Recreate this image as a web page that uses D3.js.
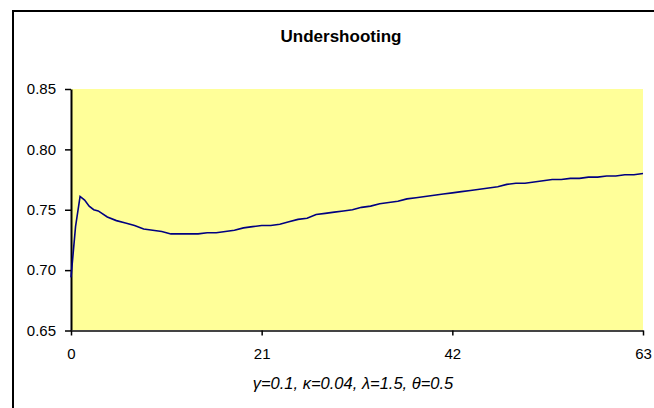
<!DOCTYPE html>
<html>
    <head>
        <script src="https://d3js.org/d3.v7.min.js"></script>
        <style>
            body { margin: 0; background: #fff; }
            text { font-family: "Liberation Sans", Arial, sans-serif; }
        </style>
    </head>
    <body>
        <svg height="408" width="654" id="chart"></svg>
        <script>
            // data
            const xValues=[0,0.5,1,1.5,2,2.5,3,4,5,6,7,8,9,10,11,12,13,14,15,16,17,18,19,20,21,22,23,24,25,26,27,28,29,30,31,32,33,34,35,36,37,38,39,40,41,42,43,44,45,46,47,48,49,50,51,52,53,54,55,56,57,58,59,60,61,62,63];
            const yValues=[0.694,0.736,0.761,0.758,0.753,0.750,0.749,0.744,0.741,0.739,0.737,0.734,0.733,0.732,0.730,0.730,0.730,0.730,0.731,0.731,0.732,0.733,0.735,0.736,0.737,0.737,0.738,0.740,0.742,0.743,0.746,0.747,0.748,0.749,0.750,0.752,0.753,0.755,0.756,0.757,0.759,0.760,0.761,0.762,0.763,0.764,0.765,0.766,0.767,0.768,0.769,0.771,0.772,0.772,0.773,0.774,0.775,0.775,0.776,0.776,0.777,0.777,0.778,0.778,0.779,0.779,0.780];
            const xTicks=[0,21,42,63];
            const yTicks=[0.65,0.70,0.75,0.80,0.85];
            const title="Undershooting";
            const subtitle="γ=0.1, κ=0.04, λ=1.5, θ=0.5";

            let svg=d3.select("#chart");
            let plotLeft=71, plotRight=643, plotTop=89, plotBottom=330.5;

            // chart frame (runs off the right/bottom edge)
            svg.append("rect")
                .attr("x", 13).attr("y", 11)
                .attr("width", 700).attr("height", 450)
                .style("fill", "#fff")
                .style("stroke", "#000")
                .style("stroke-width", 2);

            let x=d3.scaleLinear().domain([0, 63]).range([plotLeft, plotRight]);
            let y=d3.scaleLinear().domain([0.65, 0.85]).range([plotBottom, plotTop]);

            svg.append("rect")
                .attr("x", plotLeft).attr("y", plotTop)
                .attr("width", plotRight-plotLeft).attr("height", plotBottom-plotTop)
                .style("fill", "#ffff99");

            let yAxis=svg.append("g")
                .attr("transform", `translate(${plotLeft},0)`)
                .call(d3.axisLeft(y).tickValues(yTicks).tickFormat(d3.format(".2f")).tickSize(6).tickSizeOuter(0).tickPadding(9));
            yAxis.select(".domain").style("stroke", "#000").style("stroke-width", 2);
            yAxis.selectAll(".tick line").style("stroke", "#000").style("stroke-width", 1.5);
            yAxis.selectAll("text").style("font-size", "15px").style("fill", "#000");

            let xAxis=svg.append("g")
                .attr("transform", `translate(0,${plotBottom})`)
                .call(d3.axisBottom(x).tickValues(xTicks).tickSize(5).tickSizeOuter(0).tickPadding(13));
            xAxis.select(".domain").style("stroke", "#444").style("stroke-width", 2);
            xAxis.selectAll(".tick line").style("stroke", "#000").style("stroke-width", 1.5);
            xAxis.selectAll("text").style("font-size", "15px").style("fill", "#000");

            let line=d3.line()
                .x((d, i) => x(xValues[i]))
                .y(d => y(d));

            svg.append("path")
                .datum(yValues)
                .attr("d", line)
                .style("fill", "none")
                .style("stroke", "#000080")
                .style("stroke-width", 1.6);

            svg.append("text")
                .attr("x", 341).attr("y", 42)
                .attr("text-anchor", "middle")
                .style("font-size", "17px")
                .style("font-weight", "bold")
                .text(title);

            svg.append("text")
                .attr("x", 353).attr("y", 389)
                .attr("text-anchor", "middle")
                .style("font-size", "16.5px")
                .style("font-style", "italic")
                .text(subtitle);
        </script>
    </body>
</html>
